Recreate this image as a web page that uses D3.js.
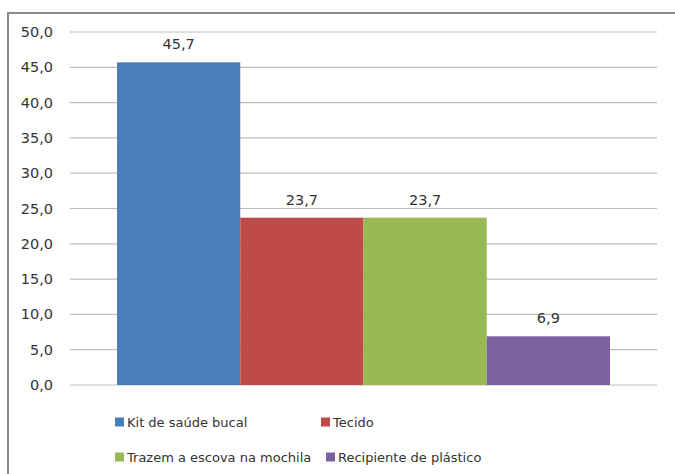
<!DOCTYPE html>
<html><head><meta charset="utf-8">
<script src="https://cdn.jsdelivr.net/npm/d3@7"></script>
<style>body{margin:0;background:#fff}svg{display:block}</style>
</head><body>
<script>
const series = ["Kit de saúde bucal", "Tecido", "Trazem a escova na mochila", "Recipiente de plástico"];
const values = [45.7, 23.7, 23.7, 6.9];
const colors = ["#4a7ebb", "#be4b48", "#98b954", "#7d60a0"];
const yTicks = [0, 5, 10, 15, 20, 25, 30, 35, 40, 45, 50];

const W = 675, H = 474;
const svg = d3.select("body").append("svg").attr("width", W).attr("height", H);
svg.append("rect").attr("width", W).attr("height", H).attr("fill", "#fff");
// frame
svg.append("path").attr("d", `M8,${H+2} L8,13 L${W+2},13`).attr("fill", "none").attr("stroke", "#8a8a8a").attr("stroke-width", 2);

const x0 = 70, x1 = 657;
const y = d3.scaleLinear().domain([0, 50]).range([385, 32]);
const x = d3.scaleBand().domain(series).range([117, 610]).padding(0);

const font = "'DejaVu Sans', Verdana, sans-serif";
const g = svg.append("g");
g.selectAll("line.grid").data(yTicks).join("line")
  .attr("x1", x0).attr("x2", x1)
  .attr("y1", d => y(d)).attr("y2", d => y(d))
  .attr("stroke", "#bdbdbd").attr("stroke-width", 1.2);
g.selectAll("text.tick").data(yTicks).join("text")
  .attr("x", 53).attr("y", d => y(d)).attr("dy", "0.35em")
  .attr("text-anchor", "end").attr("font-family", font).attr("font-size", 14.5).attr("fill", "#333")
  .text(d => d.toFixed(1).replace(".", ","));

g.selectAll("rect.bar").data(values).join("rect")
  .attr("x", (d, i) => x(series[i])).attr("width", x.bandwidth())
  .attr("y", d => y(d)).attr("height", d => y(0) - y(d))
  .attr("fill", (d, i) => colors[i]);
g.selectAll("text.lbl").data(values).join("text")
  .attr("x", (d, i) => x(series[i]) + x.bandwidth() / 2).attr("y", d => y(d) - 18).attr("dy", "0.35em")
  .attr("text-anchor", "middle").attr("font-family", font).attr("font-size", 14.5).attr("fill", "#333")
  .text(d => d.toFixed(1).replace(".", ","));

// legend
const legPos = [[115, 422], [321, 422], [115, 457], [326, 457]];
const lg = svg.append("g");
series.forEach((s, i) => {
  const [lx, ly] = legPos[i];
  lg.append("rect").attr("x", lx).attr("y", ly - 4.5).attr("width", 9).attr("height", 9).attr("fill", colors[i]);
  lg.append("text").attr("x", lx + 12).attr("y", ly).attr("dy", "0.35em")
    .attr("font-family", font).attr("font-size", 13).attr("fill", "#333").text(s);
});
</script>
</body></html>
